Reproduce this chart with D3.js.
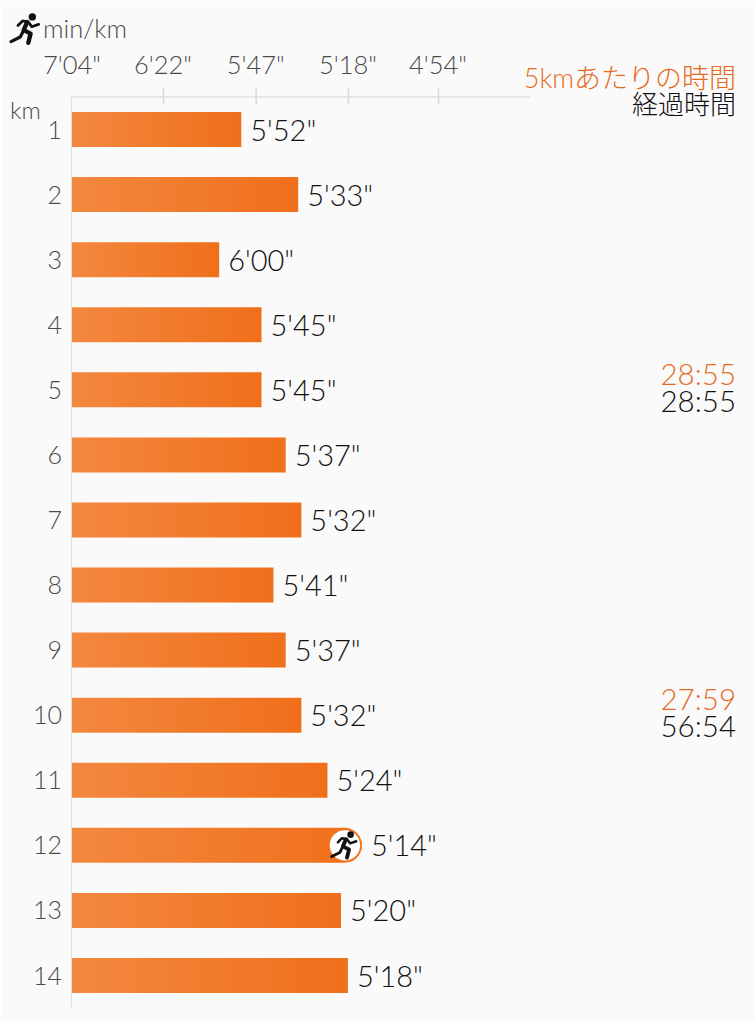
<!DOCTYPE html>
<html><head><meta charset="utf-8">
<script src="https://cdn.jsdelivr.net/npm/d3@7/dist/d3.min.js"></script>
<style>
html,body{margin:0;padding:0;background:#fff}
svg{display:block}
text{font-family:Lato,"Noto Sans CJK JP",sans-serif;font-weight:300}
</style></head><body>
<svg id="chart" width="756" height="1024"></svg>
<script>
// Lap data: pace per kilometre, as "m'ss" strings
const laps = [1,2,3,4,5,6,7,8,9,10,11,12,13,14];
const paces = ["5'52","5'33","6'00","5'45","5'45","5'37","5'32","5'41","5'37","5'32","5'24","5'14","5'20","5'18"];
const axisTicks = ["7'04","6'22","5'47","5'18","4'54"];
const bestLap = 12;
const splitLaps = [5,10];
const splitTimes = ["28:55","27:59"];
const elapsedTimes = ["28:55","56:54"];

const toSeconds = s => { const [m,r] = s.split("'"); return +m*60 + +r; };
const ORANGE = "#e66a1e", INK = "#111", GREY = "#4a4a4a";

const svg = d3.select("#chart");
svg.append("rect").attr("x",1).attr("y",1).attr("width",754).attr("height",1020).attr("fill","#fafafa");

// The axis is linear in speed, so equal steps give shrinking pace differences
const x = d3.scaleLinear()
  .domain([1/toSeconds(axisTicks[0]), 1/toSeconds(axisTicks[4])])
  .range([72,438]);
const y = d3.scalePoint().domain(laps).range([129.5,975.5]);
const barH = 35;
const paceX = i => x(1/toSeconds(paces[i]));

const grad = svg.append("defs").append("linearGradient").attr("id","barFill");
grad.append("stop").attr("offset","0%").attr("stop-color","#f3883f");
grad.append("stop").attr("offset","100%").attr("stop-color","#f06f1b");

// Top axis with tick marks above and below the line
const axis = d3.axisTop(x)
  .tickValues(axisTicks.slice(1).map(s => 1/toSeconds(s)))
  .tickSize(0).tickFormat("");
const axisG = svg.append("g").attr("transform","translate(0,97)").call(axis);
axisG.select(".domain").remove();
axisG.selectAll(".tick line").attr("y1",-9).attr("y2",7).attr("stroke","#d9d9d9").attr("stroke-width",1.5);
svg.append("line").attr("x1",72).attr("x2",530).attr("y1",97).attr("y2",97).attr("stroke","#e0e0e0").attr("stroke-width",1.5);
svg.append("line").attr("x1",71.5).attr("x2",71.5).attr("y1",97).attr("y2",1007).attr("stroke","#e0e0e0").attr("stroke-width",1.2);

svg.selectAll(".tickLabel").data(axisTicks).join("text")
  .attr("class","tickLabel")
  .attr("x",d => x(1/toSeconds(d))).attr("y",74)
  .attr("text-anchor","middle").attr("font-size",25.5).attr("fill",GREY)
  .text(d => d + '"');

// Lap bars; the best lap gets a rounded right end behind its badge
svg.selectAll(".bar").data(laps).join("path")
  .attr("class","bar")
  .attr("d",(d,i) => {
    const x0 = x.range()[0], x1 = paceX(i), t = y(d)-barH/2, r = d===bestLap ? barH/2 : 0;
    const p = d3.path();
    p.moveTo(x0,t);
    p.lineTo(x1-r,t);
    if (r) p.arc(x1-r,y(d),r,-Math.PI/2,Math.PI/2); else p.lineTo(x1,t+barH);
    p.lineTo(x0,t+barH);
    p.closePath();
    return p.toString();
  })
  .attr("fill","url(#barFill)");

svg.selectAll(".lapLabel").data(laps).join("text")
  .attr("class","lapLabel")
  .attr("x",62).attr("y",d => y(d)+9)
  .attr("text-anchor","end").attr("font-size",25).attr("fill",GREY)
  .text(d => d);

svg.selectAll(".paceLabel").data(laps).join("text")
  .attr("class","paceLabel")
  .attr("x",(d,i) => paceX(i) + 9)
  .attr("y",d => y(d)+11)
  .attr("font-size",29).attr("fill",INK)
  .text((d,i) => paces[i] + '"');

// Running figure, centred on its own origin
function runner(g, k, color){
  const s = g.append("g").attr("transform",`scale(${k})`)
    .attr("fill","none").attr("stroke",color).attr("stroke-linecap","round").attr("stroke-linejoin","round");
  s.append("circle").attr("cx",5.5).attr("cy",-10.5).attr("r",3.2).attr("fill",color).attr("stroke","none");
  s.append("path").attr("stroke-width",3.8).attr("d","M1-6 L-2 1 L4 4 L2 12");
  s.append("path").attr("stroke-width",2.8).attr("d","M-2 1 L-5 7 L-13 11");
  s.append("path").attr("stroke-width",2.4).attr("d","M-7-3 L-3-7 L2-6 L5-2 L11-4");
}
const bestX = paceX(laps.indexOf(bestLap));
const badge = svg.append("g").attr("transform",`translate(${bestX-17},${y(bestLap)})`);
badge.append("circle").attr("r",16).attr("fill","#fff").attr("stroke","#f0751f").attr("stroke-width",1.6);
runner(badge,1.02,"#111");
runner(svg.append("g").attr("transform","translate(26,29)"),1.15,"#111");

// Axis titles
svg.append("text").attr("x",43).attr("y",38).attr("font-size",25.5).attr("fill",GREY).text("min/km");
svg.append("text").attr("x",10).attr("y",119).attr("font-size",24).attr("fill",GREY).text("km");

// Column headings on the right
svg.append("text").attr("x",736).attr("y",88).attr("text-anchor","end").attr("font-size",27).attr("fill",ORANGE).text("5kmあたりの時間");
svg.append("text").attr("x",736).attr("y",114).attr("text-anchor","end").attr("font-size",26).attr("fill",INK).text("経過時間");

// 5 km split and cumulative time beside every fifth lap
svg.selectAll(".split").data(splitLaps).join("text")
  .attr("class","split").attr("x",736).attr("y",d => y(d)-5)
  .attr("text-anchor","end").attr("font-size",29.5).attr("fill",ORANGE)
  .text((d,i) => splitTimes[i]);
svg.selectAll(".elapsed").data(splitLaps).join("text")
  .attr("class","elapsed").attr("x",736).attr("y",d => y(d)+22)
  .attr("text-anchor","end").attr("font-size",29.5).attr("fill",INK)
  .text((d,i) => elapsedTimes[i]);
</script>
</body></html>
